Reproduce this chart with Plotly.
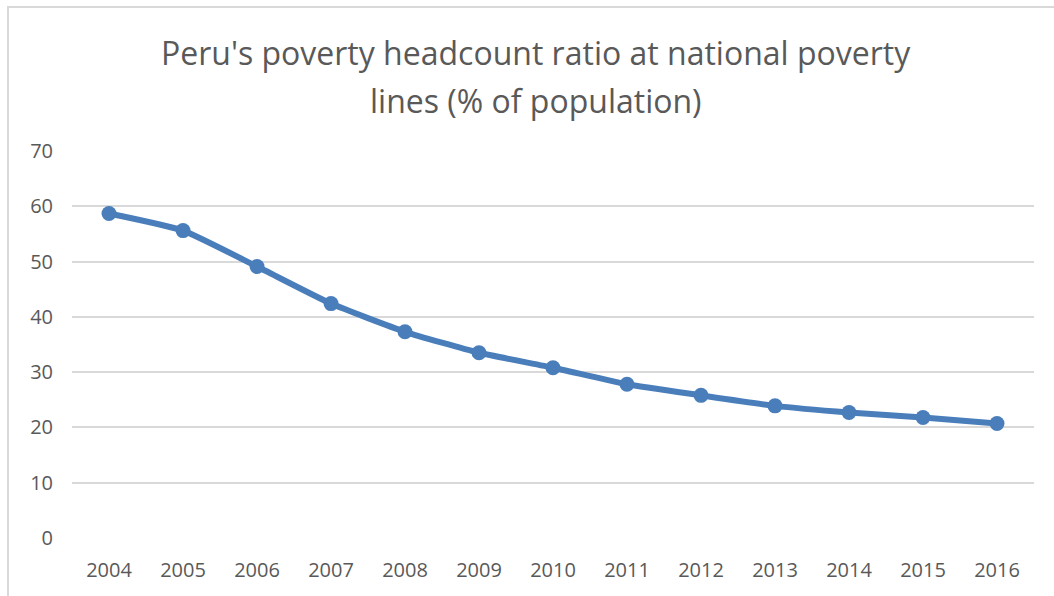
import plotly.graph_objects as go

years = ["2004", "2005", "2006", "2007", "2008", "2009", "2010",
         "2011", "2012", "2013", "2014", "2015", "2016"]
poverty = [58.7, 55.6, 49.1, 42.4, 37.3, 33.5, 30.8, 27.8, 25.8, 23.9, 22.7, 21.8, 20.7]
title_lines = ["Peru's poverty headcount ratio at national poverty",
               "lines (% of population)"]
y_ticks = [0, 10, 20, 30, 40, 50, 60, 70]

W, H = 1054, 596
L, R, T, B = 72, 20, 151, 58
pw, ph = W - L - R, H - T - B

def px_x(p):
    return (p - L) / pw

def px_y(p):
    return (H - B - p) / ph

fig = go.Figure()
fig.add_trace(go.Scatter(
    x=years, y=poverty, mode="lines+markers",
    line=dict(color="#4A7EBB", width=6, shape="spline", smoothing=0.5),
    marker=dict(color="#4A7EBB", size=15),
    showlegend=False,
))

font_family = "Open Sans, Noto Sans, sans-serif"
annotations = []
for txt, yy in zip(title_lines, [52, 100]):
    annotations.append(dict(
        text=txt, x=px_x(536), y=px_y(yy), xref="paper", yref="paper",
        xanchor="center", yanchor="middle", showarrow=False,
        font=dict(family=font_family, size=32, color="#595959"),
    ))

fig.update_layout(
    width=W, height=H,
    margin=dict(l=L, r=R, t=T, b=B),
    paper_bgcolor="white", plot_bgcolor="white",
    annotations=annotations,
    shapes=[dict(type="rect", xref="paper", yref="paper",
                 x0=px_x(8), x1=px_x(W + 20), y0=px_y(H + 20), y1=px_y(7),
                 line=dict(color="#D9D9D9", width=2), layer="below")],
    xaxis=dict(
        type="category", range=[-0.5, len(years) - 0.5],
        showgrid=False, zeroline=False, showline=False,
        ticks="outside", ticklen=14, tickcolor="rgba(0,0,0,0)",
        tickfont=dict(family=font_family, size=20, color="#595959"),
    ),
    yaxis=dict(
        range=[0, 70], tickvals=y_ticks,
        showgrid=True, gridcolor="#D9D9D9", gridwidth=1.5,
        zeroline=False, showline=False,
        ticks="outside", ticklen=14, tickcolor="rgba(0,0,0,0)",
        tickfont=dict(family=font_family, size=20, color="#595959"),
    ),
)

fig.write_html("out.html")
